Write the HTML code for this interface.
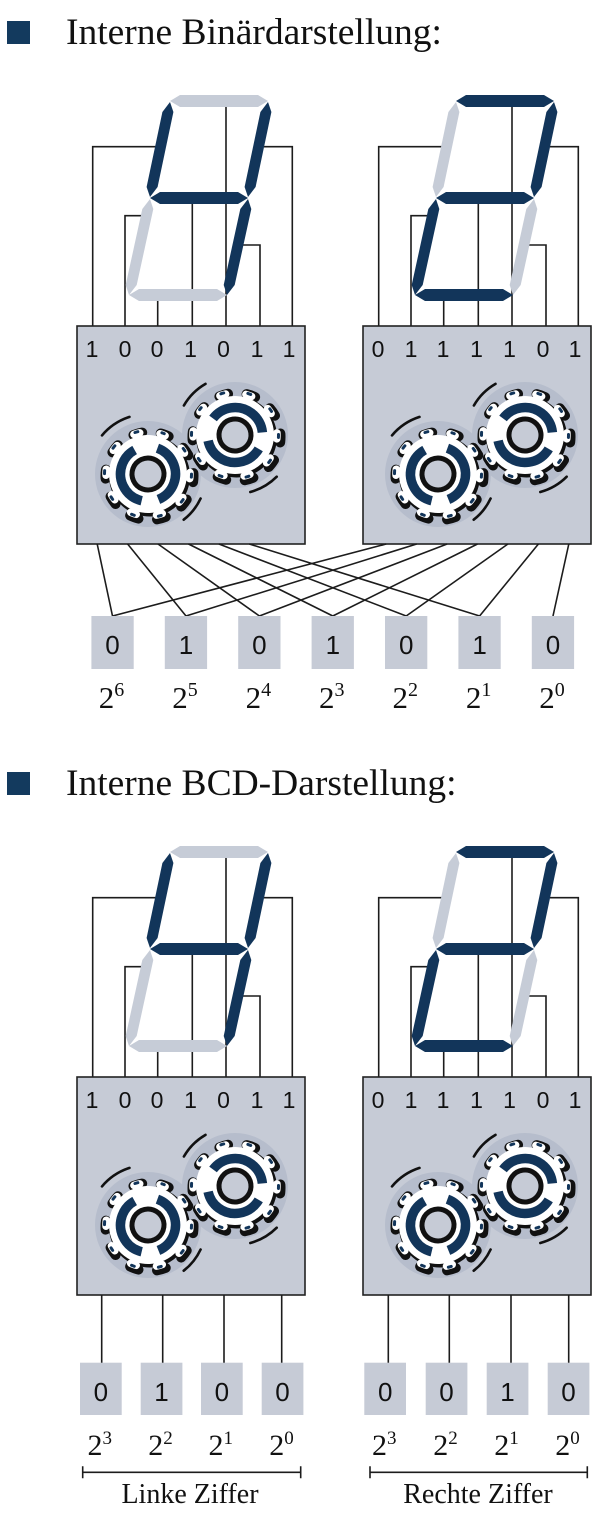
<!DOCTYPE html>
<html><head><meta charset="utf-8">
<style>
html,body{margin:0;padding:0;background:#fff;}
svg{display:block;}
.w{fill:none;stroke:#1c1c1c;stroke-width:1.6;}
.box{fill:#c6cbd6;stroke:#222;stroke-width:1.6;}
.sb{fill:#c6cbd6;}
.num{font-family:"Liberation Sans",sans-serif;font-size:23px;fill:#111;text-anchor:middle;}
.bn{font-family:"Liberation Sans",sans-serif;font-size:26px;fill:#111;text-anchor:middle;}
.lab{font-family:"Liberation Serif",serif;font-size:31px;fill:#111;text-anchor:middle;}
.hd{font-family:"Liberation Serif",serif;font-size:37.5px;fill:#111;}
.cap{font-family:"Liberation Serif",serif;font-size:28px;fill:#111;text-anchor:middle;}
.sw{fill:none;stroke:#111;stroke-width:2.6;stroke-linecap:round;}
</style></head><body>
<svg width="604" height="1518" viewBox="0 0 604 1518" xmlns="http://www.w3.org/2000/svg">
<defs>
  <polygon id="sa" points="170,101 180,95 258,95 268,101 258,107 180,107"/>
  <polygon id="sb" points="268,102 271.4,112 255.6,187 248,197 244.6,187 260.4,112"/>
  <polygon id="sf" points="170,102 173.4,112 157.6,187 150,197 146.6,187 162.4,112"/>
  <polygon id="sg" points="150,198 160,192 238,192 248,198 238,204 160,204"/>
  <polygon id="se" points="150,199 153.3,209 136.7,285 129,295 125.7,285 142.3,209"/>
  <polygon id="sc" points="248,199 251.3,209 234.7,285 227,295 223.7,285 240.3,209"/>
  <polygon id="sd" points="129,295 139,289 217,289 227,295 217,301 139,301"/>
  <g id="wires" class="w">
    <path d="M92.7,326V146.7H158"/>
    <path d="M125,326V215.7H143"/>
    <path d="M157.7,326V299"/>
    <path d="M192.3,326V203"/>
    <path d="M226,326V106"/>
    <path d="M260,326V245H242"/>
    <path d="M292.3,326V146.7H264"/>
  </g>
  <g id="gearB">
    <circle r="40.5" fill="#111"/>
    <circle r="44" fill="none" stroke="#111" stroke-width="10" stroke-dasharray="9 18.646" stroke-dashoffset="4.5" stroke-linecap="round"/>
  </g>
  <g id="gearW">
    <circle r="39" fill="#fff"/>
    <circle r="42" fill="none" stroke="#fff" stroke-width="7.5" stroke-dasharray="6 20.389" stroke-dashoffset="3" stroke-linecap="round"/>
    <circle r="43.5" fill="none" stroke="#12355a" stroke-width="3" stroke-dasharray="3 24.332" stroke-dashoffset="1.5" stroke-linecap="round"/>
    <circle r="27.5" fill="none" stroke="#12355a" stroke-width="9.5" stroke-dasharray="66 17 66 23.79"/>
    <circle r="16" fill="#c6cbd6" stroke="#111" stroke-width="5"/>
  </g>
  <g id="gears">
    <circle cx="148" cy="474" r="53" fill="#b6bdcc"/>
    <circle cx="235" cy="435" r="53" fill="#b6bdcc"/>
    <path class="sw" d="M102,435.4 A60,60 0 0 1 129.5,416.9"/>
    <path class="sw" d="M200.6,498.5 A58,58 0 0 1 183.7,519.7"/>
    <path class="sw" d="M183.9,405.5 A59,59 0 0 1 205.5,383.9"/>
    <path class="sw" d="M276.7,476.7 A59,59 0 0 1 250.3,492"/>
    <use href="#gearB" transform="translate(149.5,476) rotate(290)"/>
    <use href="#gearW" transform="translate(148,474) rotate(290)"/>
    <use href="#gearB" transform="translate(236.5,437) rotate(217)"/>
    <use href="#gearW" transform="translate(235,435) rotate(217)"/>
  </g>
  <g id="d4">
    <use href="#wires"/>
    <use href="#sa" fill="#c6ccd7"/>
    <use href="#sb" fill="#12355a"/>
    <use href="#sf" fill="#12355a"/>
    <use href="#sg" fill="#12355a"/>
    <use href="#se" fill="#c6ccd7"/>
    <use href="#sc" fill="#12355a"/>
    <use href="#sd" fill="#c6ccd7"/>
    <rect class="box" x="77" y="326" width="228" height="218"/>
    <use href="#gears"/>
  </g>
  <g id="d2">
    <use href="#wires"/>
    <use href="#sa" fill="#12355a"/>
    <use href="#sb" fill="#12355a"/>
    <use href="#sf" fill="#c6ccd7"/>
    <use href="#sg" fill="#12355a"/>
    <use href="#se" fill="#12355a"/>
    <use href="#sc" fill="#c6ccd7"/>
    <use href="#sd" fill="#12355a"/>
    <rect class="box" x="77" y="326" width="228" height="218"/>
    <use href="#gears" transform="translate(4,0)"/>
  </g>
</defs>

<!-- ============ Section 1 ============ -->
<rect x="7" y="21" width="23" height="23" fill="#133a5e"/>
<text class="hd" x="66" y="44">Interne Binärdarstellung:</text>

<use href="#d4"/>
<use href="#d2" transform="translate(286,0)"/>

<g class="num">
  <text x="92" y="357">1</text><text x="125" y="357">0</text><text x="157" y="357">0</text><text x="190.5" y="357">1</text><text x="223.5" y="357">0</text><text x="257" y="357">1</text><text x="289" y="357">1</text>
  <text x="378" y="357">0</text><text x="411" y="357">1</text><text x="443" y="357">1</text><text x="476.5" y="357">1</text><text x="509.5" y="357">1</text><text x="543" y="357">0</text><text x="575" y="357">1</text>
</g>

<g class="w">
  <path d="M97.2,544L112.5,616"/>
  <path d="M127.6,544L186,616"/>
  <path d="M158,544L259.4,616"/>
  <path d="M188.5,544L332.8,616"/>
  <path d="M218.9,544L406.2,616"/>
  <path d="M249.3,544L479.6,616"/>
  <path d="M386.2,544L112.5,616"/>
  <path d="M416.7,544L186,616"/>
  <path d="M447.1,544L259.4,616"/>
  <path d="M477.5,544L332.8,616"/>
  <path d="M507.9,544L406.2,616"/>
  <path d="M538.4,544L479.6,616"/>
  <path d="M568.8,544L553,616"/>
</g>

<g>
  <rect class="sb" x="91.4" y="616" width="42.3" height="53"/>
  <rect class="sb" x="164.8" y="616" width="42.3" height="53"/>
  <rect class="sb" x="238.2" y="616" width="42.3" height="53"/>
  <rect class="sb" x="311.6" y="616" width="42.3" height="53"/>
  <rect class="sb" x="385" y="616" width="42.3" height="53"/>
  <rect class="sb" x="458.4" y="616" width="42.3" height="53"/>
  <rect class="sb" x="531.8" y="616" width="42.3" height="53"/>
</g>
<g class="bn">
  <text x="112.5" y="654">0</text><text x="186" y="654">1</text><text x="259.4" y="654">0</text><text x="332.8" y="654">1</text><text x="406.2" y="654">0</text><text x="479.6" y="654">1</text><text x="553" y="654">0</text>
</g>
<g class="lab">
  <text x="111.5" y="708">2<tspan font-size="20" dy="-12">6</tspan></text>
  <text x="185" y="708">2<tspan font-size="20" dy="-12">5</tspan></text>
  <text x="258.4" y="708">2<tspan font-size="20" dy="-12">4</tspan></text>
  <text x="331.8" y="708">2<tspan font-size="20" dy="-12">3</tspan></text>
  <text x="405.2" y="708">2<tspan font-size="20" dy="-12">2</tspan></text>
  <text x="478.6" y="708">2<tspan font-size="20" dy="-12">1</tspan></text>
  <text x="552" y="708">2<tspan font-size="20" dy="-12">0</tspan></text>
</g>

<!-- ============ Section 2 ============ -->
<rect x="7" y="772" width="23" height="23" fill="#133a5e"/>
<text class="hd" x="66" y="795">Interne BCD-Darstellung:</text>

<use href="#d4" transform="translate(0,751)"/>
<use href="#d2" transform="translate(286,751)"/>

<g class="num">
  <text x="92" y="1108">1</text><text x="125" y="1108">0</text><text x="157" y="1108">0</text><text x="190.5" y="1108">1</text><text x="223.5" y="1108">0</text><text x="257" y="1108">1</text><text x="289" y="1108">1</text>
  <text x="378" y="1108">0</text><text x="411" y="1108">1</text><text x="443" y="1108">1</text><text x="476.5" y="1108">1</text><text x="509.5" y="1108">1</text><text x="543" y="1108">0</text><text x="575" y="1108">1</text>
</g>

<g class="w">
  <path d="M101.7,1295V1363"/>
  <path d="M162.7,1295V1363"/>
  <path d="M224,1295V1363"/>
  <path d="M281.7,1295V1363"/>
  <path d="M388.3,1295V1363"/>
  <path d="M449.3,1295V1363"/>
  <path d="M511,1295V1363"/>
  <path d="M568.7,1295V1363"/>
</g>
<g>
  <rect class="sb" x="80" y="1362.7" width="41.7" height="52.3"/>
  <rect class="sb" x="140.7" y="1362.7" width="41.7" height="52.3"/>
  <rect class="sb" x="201" y="1362.7" width="41.7" height="52.3"/>
  <rect class="sb" x="261.7" y="1362.7" width="41.7" height="52.3"/>
  <rect class="sb" x="364.3" y="1362.7" width="41.7" height="52.3"/>
  <rect class="sb" x="425.7" y="1362.7" width="41.7" height="52.3"/>
  <rect class="sb" x="486.7" y="1362.7" width="41.7" height="52.3"/>
  <rect class="sb" x="547.7" y="1362.7" width="41.7" height="52.3"/>
</g>
<g class="bn">
  <text x="100.8" y="1401">0</text><text x="161.5" y="1401">1</text><text x="221.8" y="1401">0</text><text x="282.5" y="1401">0</text>
  <text x="385.2" y="1401">0</text><text x="446.5" y="1401">0</text><text x="507.5" y="1401">1</text><text x="568.5" y="1401">0</text>
</g>
<g class="lab" style="font-size:30px">
  <text x="99.8" y="1455">2<tspan font-size="19" dy="-11">3</tspan></text>
  <text x="160.5" y="1455">2<tspan font-size="19" dy="-11">2</tspan></text>
  <text x="220.8" y="1455">2<tspan font-size="19" dy="-11">1</tspan></text>
  <text x="281.5" y="1455">2<tspan font-size="19" dy="-11">0</tspan></text>
  <text x="384.2" y="1455">2<tspan font-size="19" dy="-11">3</tspan></text>
  <text x="445.5" y="1455">2<tspan font-size="19" dy="-11">2</tspan></text>
  <text x="506.5" y="1455">2<tspan font-size="19" dy="-11">1</tspan></text>
  <text x="567.5" y="1455">2<tspan font-size="19" dy="-11">0</tspan></text>
</g>

<g class="w">
  <path d="M82.7,1472.3H300.7M82.7,1466.3V1478.3M300.7,1466.3V1478.3"/>
  <path d="M370,1472.3H587.3M370,1466.3V1478.3M587.3,1466.3V1478.3"/>
</g>
<text class="cap" x="190" y="1503">Linke Ziffer</text>
<text class="cap" x="478" y="1503">Rechte Ziffer</text>
</svg>
</body></html>
